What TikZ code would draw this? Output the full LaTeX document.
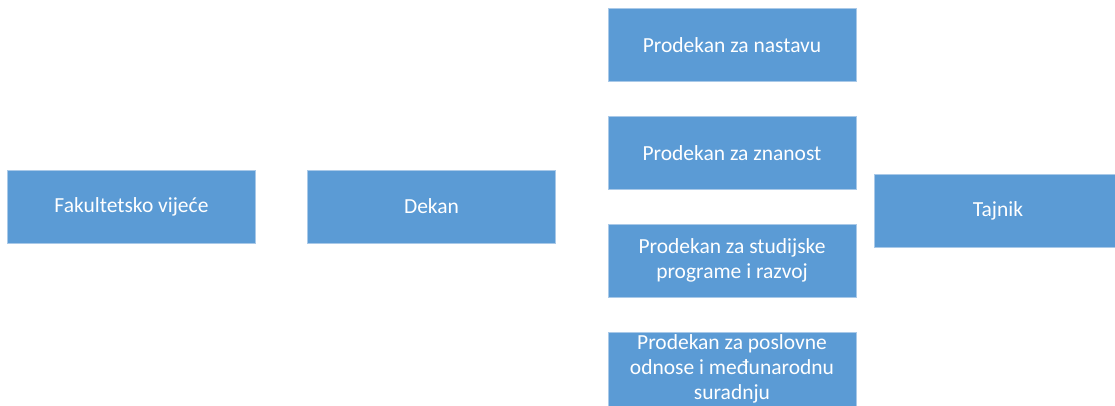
\documentclass[tikz,border=0pt]{standalone}
\usepackage{fontspec}
\setmainfont{Carlito}
\definecolor{boxblue}{HTML}{5B9BD5}
\definecolor{boxedge}{HTML}{A9C9E8}
\begin{document}
\begin{tikzpicture}[x=1pt,y=-1pt,
  orgbox/.style={fill=boxblue, draw=boxedge, line width=0.6pt, text=white,
    align=center, inner sep=0pt, font=\fontsize{21.5}{25}\selectfont}]
\useasboundingbox (0,0) rectangle (1115,405);
\begin{scope}
\clip (0,0) rectangle (1115,405);
\node[orgbox, minimum width=248pt, minimum height=73pt] (fv) at (131.5,206.5) {Fakultetsko vijeće};
\node[orgbox, minimum width=248pt, minimum height=73pt] (dekan) at (431.5,206.5) {Dekan};
\node[orgbox, minimum width=248pt, minimum height=73pt] (pn) at (732,45) {Prodekan za nastavu};
\node[orgbox, minimum width=248pt, minimum height=73pt] (pz) at (732,153) {Prodekan za znanost};
\node[orgbox, minimum width=248pt, minimum height=73pt] (ps) at (732,260.5) {Prodekan za studijske\\programe i razvoj};
\node[orgbox, minimum width=248pt, minimum height=74pt] (pp) at (732,369) {Prodekan za poslovne\\odnose i međunarodnu\\suradnju};
\node[orgbox, minimum width=248pt, minimum height=73pt] (tajnik) at (998,210.5) {Tajnik};
\end{scope}
\end{tikzpicture}
\end{document}
